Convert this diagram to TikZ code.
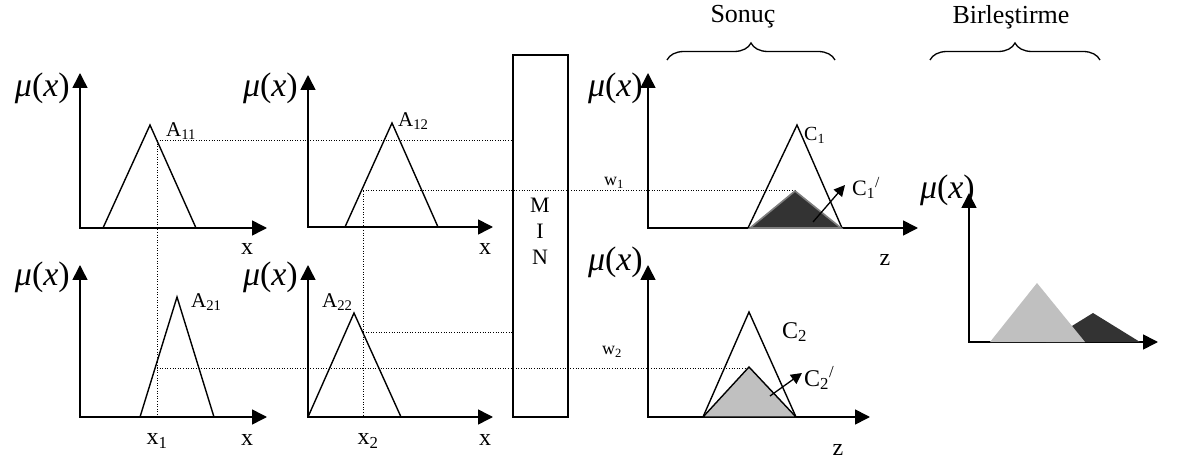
\documentclass[tikz,border=0pt]{standalone}
\usepackage{fontspec}
\setmainfont{Liberation Serif}
\usetikzlibrary{arrows.meta, decorations.pathreplacing}

\definecolor{darkfill}{HTML}{333333}
\definecolor{lightfill}{HTML}{C0C0C0}
\definecolor{edgegray}{HTML}{808080}

\begin{document}
\begin{tikzpicture}[
    x=1pt, y=-1pt,
    axes/.style={line width=1.6pt, line join=miter, {Triangle[length=15pt,width=15pt]}-{Triangle[length=15pt,width=15pt]}},
    tri/.style={line width=1.4pt, line join=miter},
    guide/.style={line width=1pt, dash pattern=on 1pt off 1.6pt},
    ptr/.style={line width=1.3pt, -{Triangle[length=11pt,width=11pt]}},
    brace/.style={decorate, decoration={brace, amplitude=17pt}, line width=1.3pt},
    mu/.style={font=\fontsize{34}{34}\selectfont, inner sep=0pt, anchor=east},
    lbl/.style={font=\fontsize{24}{24}\selectfont, inner sep=0pt},
    small/.style={font=\fontsize{21}{21}\selectfont, inner sep=0pt, anchor=west},
    title/.style={font=\fontsize{26}{26}\selectfont, inner sep=0pt}
]
\useasboundingbox (0,0) rectangle (1179,465);

% Guide lines (behind everything)
\draw[guide] (157,141) -- (157,417);
\draw[guide] (157,141) -- (513,141);
\draw[guide] (363,191) -- (363,417);
\draw[guide] (363,191) -- (795,191);
\draw[guide] (363,333) -- (513,333);
\draw[guide] (157,368) -- (749,368);

% Input sets
\draw[axes] (80,73) -- (80,228) -- (267,228);
\draw[tri] (103,228) -- (150,125) -- (196,228);
\node[mu] (mu11) at (70,88) {{\itshape μ}({\itshape x})};
\node[small] (a11) at (166,131) {A\textsubscript{11}};
\node[lbl] (x11) at (247,249) {x};

\draw[axes] (308,75) -- (308,227) -- (493,227);
\draw[tri] (345,227) -- (392,123) -- (438,227);
\node[mu] (mu12) at (298,88) {{\itshape μ}({\itshape x})};
\node[small] (a12) at (398,121) {A\textsubscript{12}};
\node[lbl] (x12) at (485,249) {x};

\draw[axes] (80,265) -- (80,417) -- (267,417);
\draw[tri] (140,417) -- (177,297) -- (214,417);
\node[mu] (mu21) at (70,277) {{\itshape μ}({\itshape x})};
\node[small] (a21) at (191,302) {A\textsubscript{21}};
\node[lbl] (xone) at (157,441) {x\textsubscript{1}};
\node[lbl] (x21) at (247,440) {x};

\draw[axes] (308,265) -- (308,417) -- (493,417);
\draw[tri] (308,417) -- (354,313) -- (401,417);
\node[mu] (mu22) at (298,277) {{\itshape μ}({\itshape x})};
\node[small] (a22) at (322,302) {A\textsubscript{22}};
\node[lbl] (xtwo) at (368,441) {x\textsubscript{2}};
\node[lbl] (x22) at (485,440) {x};

% MIN operator
\draw[line width=1.5pt] (513,55) rectangle (568,417);
\node[font=\fontsize{22}{26}\selectfont, align=center, inner sep=0pt] (min) at (540,231) {M\\I\\N};

% Consequents
\draw[axes] (648,73) -- (648,228) -- (918,228);
\draw[tri] (748,228) -- (797,125) -- (842,228);
\filldraw[fill=darkfill, draw=edgegray, line width=1.6pt, line join=miter] (750,228) -- (795,191) -- (841,228) -- cycle;
\node[mu] (mu31) at (643,88) {{\itshape μ}({\itshape x})};
\node[small, font=\fontsize{20}{20}\selectfont] (c1) at (804,135) {C\textsubscript{1}};
\node[small, font=\fontsize{22}{22}\selectfont] (c1p) at (852,188) {C\textsubscript{1}\textsuperscript{/}};
\coordinate (c1tail) at (813,222);
\draw[ptr] (c1tail) -- (845,185);
\node[small, font=\fontsize{18}{18}\selectfont] (w1) at (604,183) {w\textsubscript{1}};
\node[lbl] (z1) at (885,260) {z};

\draw[axes] (648,265) -- (648,417) -- (870,417);
\draw[tri] (703,417) -- (749,312) -- (796,417);
\filldraw[fill=lightfill, draw=black, line width=1.4pt, line join=miter] (703,417) -- (749,367) -- (796,417) -- cycle;
\node[mu] (mu32) at (643,262) {{\itshape μ}({\itshape x})};
\node[small, font=\fontsize{24}{24}\selectfont] (c2) at (782,332) {C\textsubscript{2}};
\node[small, font=\fontsize{24}{24}\selectfont] (c2p) at (804,378) {C\textsubscript{2}\textsuperscript{/}};
\coordinate (c2tail) at (770,396);
\draw[ptr] (c2tail) -- (802,373);
\node[small, font=\fontsize{18}{18}\selectfont] (w2) at (602,352) {w\textsubscript{2}};
\node[lbl] (z2) at (838,450) {z};

% Aggregation
\draw[axes] (969,193) -- (969,342) -- (1158,342);
\fill[darkfill] (1046,342) -- (1093,313) -- (1140,342) -- cycle;
\fill[lightfill] (990,342) -- (1037,283) -- (1085,342) -- cycle;
\node[mu] (mu4) at (975,190) {{\itshape μ}({\itshape x})};

% Braces
\draw[brace] (667,60) -- (835,60);
\node[title] (sonuc) at (743,17) {Sonuç};
\draw[brace] (930,60) -- (1100,60);
\node[title] (birles) at (1011,17) {Birleştirme};

\end{tikzpicture}
\end{document}
